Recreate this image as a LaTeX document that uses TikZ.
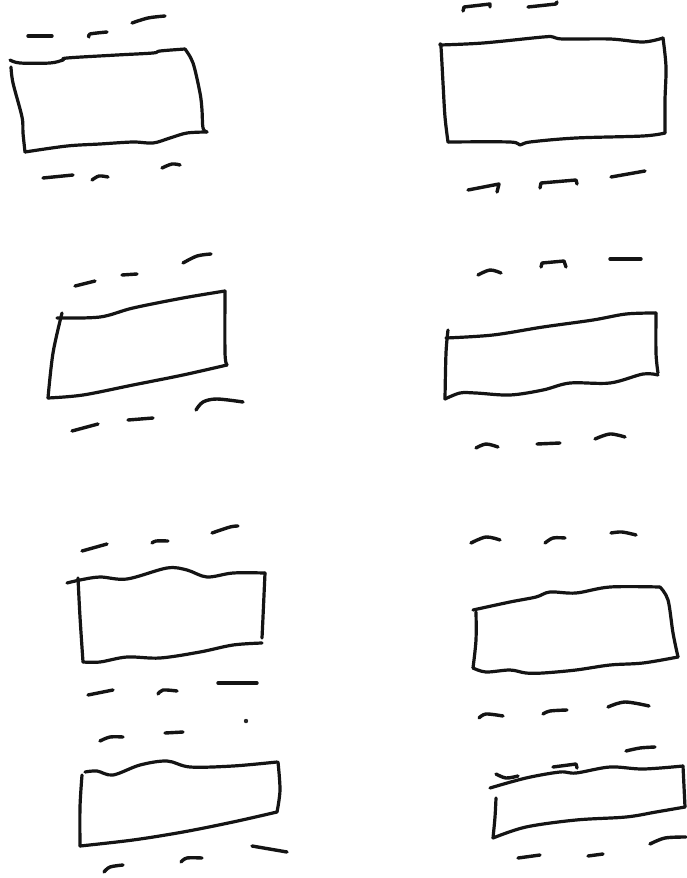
\documentclass[tikz,border=0pt]{standalone}
\begin{document}
\begin{tikzpicture}[x=1pt,y=-1pt,
  boxline/.style={line width=3.2pt, line cap=round, line join=round, black!92},
  dashmark/.style={line width=3.4pt, line cap=round, line join=round, black!92},
  sm/.style={smooth, tension=0.55}]
\useasboundingbox[fill=white] (0,0) rectangle (686,878);

% ---------- Box 1 (top left)
\draw[boxline] plot[sm] coordinates {(10,60) (20,63) (50,63) (63,60) (67,58) (117,55) (153,53) (160,51) (185,49)};
\draw[boxline] plot[sm] coordinates {(185,49) (193,63) (200,93) (202,110) (203,128) (207,132)};
\draw[boxline] plot[sm] coordinates {(207,132) (187,133) (170,138) (153,143) (133,142) (100,144) (67,146) (25,152)};
\draw[boxline] plot[sm] coordinates {(25,152) (23,133) (22,117) (13,83) (11,67)};
\draw[dashmark] (28,36) -- (52,36);
\draw[dashmark] plot[sm] coordinates {(89,37) (90,34) (107,32)};
\draw[dashmark] plot[sm] coordinates {(132,23) (148,18) (165,16)};
\draw[dashmark] (43,178) -- (73,175);
\draw[dashmark] plot[sm] coordinates {(92,180) (99,176) (108,177)};
\draw[dashmark] plot[sm] coordinates {(162,168) (172,164) (180,165)};

% ---------- Box 2 (top right)
\draw[boxline] plot[sm] coordinates {(440,45) (483,43) (543,37) (553,37) (563,39) (610,39) (643,42) (663,38)};
\draw[boxline] plot[sm] coordinates {(663,38) (666,67) (665,100) (665,133)};
\draw[boxline] plot[sm] coordinates {(665,133) (643,136) (576,138) (530,142) (520,145) (510,142) (448,142)};
\draw[boxline] plot[sm] coordinates {(448,142) (445,117) (443,83) (441,47) (440,45)};
\draw[dashmark] (463,11) -- (464,7) -- (490,4) -- (490,7);
\draw[dashmark] (528,7) -- (556,4) -- (557,2);
\draw[dashmark] (468,190) -- (499,184) -- (497,192);
\draw[dashmark] (540,188) -- (541,183) -- (576,180) -- (577,184);
\draw[dashmark] (611,177) -- (645,171);

% ---------- Box 3 (middle left)
\draw[boxline] plot[sm] coordinates {(57,318) (100,317) (133,308) (183,298) (225,291)};
\draw[boxline] plot[sm] coordinates {(225,291) (225,353) (227,365)};
\draw[boxline] plot[sm] coordinates {(227,365) (183,375) (133,385) (83,395) (48,398)};
\draw[boxline] plot[sm] coordinates {(48,398) (53,353) (62,313)};
\draw[dashmark] (75,286) -- (95,281);
\draw[dashmark] (122,275) -- (137,274);
\draw[dashmark] plot[sm] coordinates {(183,263) (197,256) (211,254)};
\draw[dashmark] (72,431) -- (98,424);
\draw[dashmark] (128,420) -- (153,418);
\draw[dashmark] plot[sm] coordinates {(196,410) (203,402) (217,399) (243,402)};

% ---------- Box 4 (middle right)
\draw[boxline] plot[sm] coordinates {(446,338) (493,335) (543,327) (593,320) (626,314) (656,313)};
\draw[boxline] plot[sm] coordinates {(656,313) (656,353) (658,373)};
\draw[boxline] plot[sm] coordinates {(658,375) (643,374) (610,383) (570,383) (543,390) (510,395) (476,393) (460,393) (445,399)};
\draw[boxline] plot[sm] coordinates {(445,399) (446,353) (448,330)};
\draw[dashmark] plot[sm] coordinates {(478,275) (490,270) (501,273)};
\draw[dashmark] (541,267) -- (542,263) -- (564,261) -- (566,267);
\draw[dashmark] (610,259) -- (641,259);
\draw[dashmark] plot[sm] coordinates {(476,448) (486,444) (498,447)};
\draw[dashmark] (537,444) -- (560,443);
\draw[dashmark] plot[sm] coordinates {(595,439) (610,434) (625,437)};

% ---------- Box 5 (lower left, upper)
\draw[boxline] plot[sm] coordinates {(67,583) (80,580) (100,577) (127,579) (167,568) (187,570) (207,577) (233,573) (265,573)};
\draw[boxline] plot[sm] coordinates {(265,573) (263,617) (262,638)};
\draw[boxline] plot[sm] coordinates {(262,643) (233,645) (200,652) (160,658) (127,657) (100,662) (83,662)};
\draw[boxline] plot[sm] coordinates {(83,662) (80,617) (78,578)};
\draw[dashmark] (82,551) -- (107,544);
\draw[dashmark] plot[sm] coordinates {(152,543) (156,541) (168,541)};
\draw[dashmark] plot[sm] coordinates {(212,533) (230,527) (238,526)};
\draw[dashmark] (88,695) -- (113,690);
\draw[dashmark] plot[sm] coordinates {(158,694) (163,690) (177,691)};
\draw[dashmark] (218,683) -- (257,683);
\fill[black!85] (246,721) circle (2.2);
\draw[dashmark] plot[sm] coordinates {(100,741) (110,737) (123,737)};
\draw[dashmark] (165,733) -- (183,732);

% ---------- Box 7 (lower left, bottom)
\draw[boxline] plot[sm] coordinates {(85,772) (97,771) (113,775) (140,765) (167,761) (190,767) (233,766) (277,762)};
\draw[boxline] plot[sm] coordinates {(278,762) (280,790) (277,812)};
\draw[boxline] plot[sm] coordinates {(277,812) (233,822) (183,832) (133,840) (80,846)};
\draw[boxline] plot[sm] coordinates {(80,846) (80,807) (82,775)};
\draw[dashmark] plot[sm] coordinates {(104,872) (110,867) (123,865)};
\draw[dashmark] plot[sm] coordinates {(181,862) (187,858) (202,858)};
\draw[dashmark] (252,846) -- (287,852);

% ---------- Box 6 (lower right, upper)
\draw[boxline] plot[sm] coordinates {(473,610) (510,602) (536,597) (550,592) (576,593) (610,587) (660,587)};
\draw[boxline] plot[sm] coordinates {(660,587) (668,600) (673,633) (678,657)};
\draw[boxline] plot[sm] coordinates {(678,657) (643,663) (610,665) (576,670) (543,673) (526,673) (510,670) (486,672) (473,668)};
\draw[boxline] plot[sm] coordinates {(473,668) (476,640) (476,612)};
\draw[dashmark] plot[sm] coordinates {(471,543) (486,537) (500,540)};
\draw[dashmark] plot[sm] coordinates {(545,543) (553,538) (565,538)};
\draw[dashmark] plot[sm] coordinates {(611,533) (622,532) (636,535)};
\draw[dashmark] plot[sm] coordinates {(479,718) (486,714) (503,716)};
\draw[dashmark] plot[sm] coordinates {(543,714) (550,711) (567,710)};
\draw[dashmark] plot[sm] coordinates {(608,707) (625,702) (649,706)};

% ---------- Box 8 (lower right, bottom)
\draw[dashmark] plot[sm] coordinates {(626,751) (640,748) (655,747)};
\draw[dashmark] plot[sm] coordinates {(496,774) (506,778) (518,776)};
\draw[dashmark] (553,767) -- (576,764) -- (577,768);
\draw[boxline] plot[sm] coordinates {(490,788) (526,778) (560,772) (576,773) (610,767) (643,769) (683,766)};
\draw[boxline] plot[sm] coordinates {(683,766) (685,807)};
\draw[boxline] plot[sm] coordinates {(685,807) (656,812) (626,817) (576,820) (526,827) (493,838)};
\draw[boxline] plot[sm] coordinates {(493,838) (495,817) (496,798)};
\draw[dashmark] (518,858) -- (540,855);
\draw[dashmark] (588,856) -- (603,854);
\draw[dashmark] plot[sm] coordinates {(650,844) (665,838) (686,837)};
\end{tikzpicture}
\end{document}
